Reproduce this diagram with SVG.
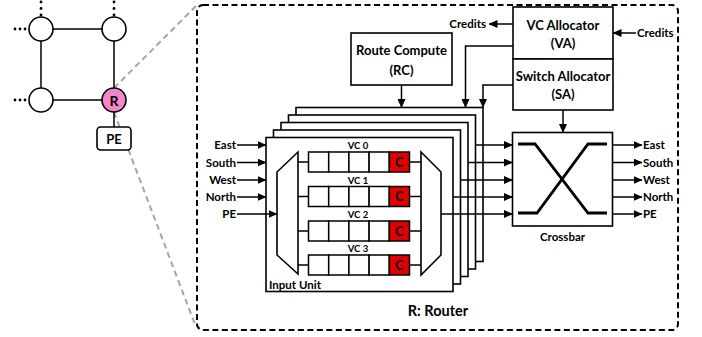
<svg xmlns="http://www.w3.org/2000/svg" width="702" height="337" viewBox="0 0 702 337">
<defs>
<marker id="ah" markerWidth="9" markerHeight="8" refX="8.5" refY="4" orient="auto" markerUnits="userSpaceOnUse">
<path d="M0,0 L9,4 L0,8 z" fill="#000"/>
</marker>
<style>
text{font-family:Lato,"Open Sans","Liberation Sans",sans-serif;font-weight:bold;fill:#000}
.box{fill:#fff;stroke:#000;stroke-width:1.6}
.ln{fill:none;stroke:#000;stroke-width:1.5}
.ar{fill:none;stroke:#000;stroke-width:1.5;marker-end:url(#ah)}
.gray{fill:none;stroke:#a6a6a6;stroke-width:2;stroke-dasharray:6,4}
.dot{fill:#000}
.t13{font-size:13px}
.t11{font-size:11.5px}
.t9{font-size:9.5px}
.tc{font-size:12.5px}
.cell{fill:#fff;stroke:#000;stroke-width:1.5}
.red{fill:#e00000;stroke:#000;stroke-width:1.5}
</style>
</defs>
<rect width="702" height="337" fill="#fff"/>

<!-- zoom lines -->
<g id="zoomlines">
<line class="gray" x1="114" y1="88" x2="197" y2="5"/>
<line class="gray" x1="114" y1="112" x2="196" y2="327"/>
</g>

<!-- mesh -->
<g id="mesh">
<line class="ln" x1="41" y1="29" x2="114" y2="29"/>
<line class="ln" x1="41" y1="100" x2="114" y2="100"/>
<line class="ln" x1="41" y1="29" x2="41" y2="100"/>
<line class="ln" x1="114" y1="29" x2="114" y2="100"/>
<line class="ln" x1="114" y1="100" x2="114" y2="127"/>
<circle class="dot" cx="15" cy="29" r="1.4"/><circle class="dot" cx="20" cy="29" r="1.4"/><circle class="dot" cx="25" cy="29" r="1.4"/>
<circle class="dot" cx="15" cy="100" r="1.4"/><circle class="dot" cx="20" cy="100" r="1.4"/><circle class="dot" cx="25" cy="100" r="1.4"/>
<circle class="dot" cx="41" cy="2" r="1.4"/><circle class="dot" cx="41" cy="8.5" r="1.4"/><circle class="dot" cx="41" cy="15" r="1.4"/>
<circle class="dot" cx="114" cy="2" r="1.4"/><circle class="dot" cx="114" cy="8.5" r="1.4"/><circle class="dot" cx="114" cy="15" r="1.4"/>
</g>
<g id="n00"><circle class="box" cx="41" cy="29" r="12"/></g>
<g id="n01"><circle class="box" cx="114" cy="29" r="12"/></g>
<g id="n10"><circle class="box" cx="41" cy="100" r="12"/></g>
<g id="nR"><circle cx="114" cy="100" r="12" fill="#f386c6" stroke="#000" stroke-width="1.6"/><text x="114" y="105.5" font-size="14" text-anchor="middle">R</text></g>
<g id="nPE"><rect class="box" x="97" y="127" width="34" height="23" rx="3.5"/><text class="t13" x="114" y="143.5" text-anchor="middle">PE</text></g>

<!-- router boundary -->
<g id="router">
<rect x="197" y="5" width="481" height="325" rx="6" fill="none" stroke="#000" stroke-width="2" stroke-dasharray="6,3.5"/>
<text x="438" y="316" font-size="14.5" text-anchor="middle">R: Router</text>
</g>

<!-- input unit stack -->
<g id="inputunit">
<rect class="box" x="296" y="107.5" width="187" height="154"/>
<rect class="box" x="288.5" y="115" width="187" height="154"/>
<rect class="box" x="281" y="122.5" width="187" height="154"/>
<rect class="box" x="273.5" y="130" width="187" height="154"/>
<rect class="box" x="266" y="137.5" width="187" height="154"/>
<text class="t11" x="269" y="288.5">Input Unit</text>
<polygon class="box" points="277,172 298,152 298,274 277,255"/>
<polygon class="box" points="421,152 441,172 441,255 421,275"/>
<g id="vc0">
<text class="t9" x="358" y="149" text-anchor="middle">VC 0</text>
<rect class="cell" x="308.5" y="152" width="20.2" height="20"/><rect class="cell" x="328.7" y="152" width="20.2" height="20"/><rect class="cell" x="348.9" y="152" width="20.2" height="20"/><rect class="cell" x="369.1" y="152" width="20.2" height="20"/><rect class="red" x="389.3" y="152" width="20.2" height="20"/>
<text class="tc" x="399.4" y="166.5" text-anchor="middle">C</text>
</g>
<g id="vc1">
<text class="t9" x="358" y="183.5" text-anchor="middle">VC 1</text>
<rect class="cell" x="308.5" y="186.5" width="20.2" height="20"/><rect class="cell" x="328.7" y="186.5" width="20.2" height="20"/><rect class="cell" x="348.9" y="186.5" width="20.2" height="20"/><rect class="cell" x="369.1" y="186.5" width="20.2" height="20"/><rect class="red" x="389.3" y="186.5" width="20.2" height="20"/>
<text class="tc" x="399.4" y="201" text-anchor="middle">C</text>
</g>
<g id="vc2">
<text class="t9" x="358" y="218" text-anchor="middle">VC 2</text>
<rect class="cell" x="308.5" y="221" width="20.2" height="20"/><rect class="cell" x="328.7" y="221" width="20.2" height="20"/><rect class="cell" x="348.9" y="221" width="20.2" height="20"/><rect class="cell" x="369.1" y="221" width="20.2" height="20"/><rect class="red" x="389.3" y="221" width="20.2" height="20"/>
<text class="tc" x="399.4" y="235.5" text-anchor="middle">C</text>
</g>
<g id="vc3">
<text class="t9" x="358" y="252" text-anchor="middle">VC 3</text>
<rect class="cell" x="308.5" y="255" width="20.2" height="20"/><rect class="cell" x="328.7" y="255" width="20.2" height="20"/><rect class="cell" x="348.9" y="255" width="20.2" height="20"/><rect class="cell" x="369.1" y="255" width="20.2" height="20"/><rect class="red" x="389.3" y="255" width="20.2" height="20"/>
<text class="tc" x="399.4" y="269.5" text-anchor="middle">C</text>
</g>
</g>

<g id="rc"><rect class="box" x="351" y="33" width="101" height="52"/>
<text class="t13" x="401.5" y="55" text-anchor="middle">Route Compute</text>
<text class="t13" x="401.5" y="75" text-anchor="middle">(RC)</text></g>

<g id="va"><rect class="box" x="513" y="7" width="100" height="52"/>
<text class="t13" x="563" y="30" text-anchor="middle">VC Allocator</text>
<text class="t13" x="563" y="48" text-anchor="middle">(VA)</text></g>

<g id="sa"><rect class="box" x="513" y="59" width="100" height="51"/>
<text class="t13" x="563" y="81" text-anchor="middle">Switch Allocator</text>
<text class="t13" x="563" y="99" text-anchor="middle">(SA)</text></g>

<g id="crossbar"><rect class="box" x="512.5" y="132.5" width="100" height="93.5"/>
<path d="M518,144 H535 L588,213 H607 M518,213 H537 L588,144 H607" fill="none" stroke="#000" stroke-width="2.8"/>
<text class="t11" x="562.5" y="240.5" text-anchor="middle">Crossbar</text></g>

<g id="labels">
<text class="t11" x="236" y="149" text-anchor="end">East</text>
<text class="t11" x="236" y="166.5" text-anchor="end">South</text>
<text class="t11" x="236" y="184" text-anchor="end">West</text>
<text class="t11" x="236" y="201" text-anchor="end">North</text>
<text class="t11" x="236" y="218" text-anchor="end">PE</text>
<text class="t11" x="643" y="149">East</text>
<text class="t11" x="643" y="166.5">South</text>
<text class="t11" x="643" y="184">West</text>
<text class="t11" x="643" y="201">North</text>
<text class="t11" x="643" y="218">PE</text>
<text class="t11" x="486" y="28" text-anchor="end">Credits</text>
<text class="t11" x="637" y="37">Credits</text>
</g>

<g id="connectors">
<line class="ar" x1="237" y1="145" x2="266" y2="145"/>
<line class="ar" x1="237" y1="162.5" x2="266" y2="162.5"/>
<line class="ar" x1="237" y1="180" x2="266" y2="180"/>
<line class="ar" x1="237" y1="197" x2="266" y2="197"/>
<line class="ar" x1="237" y1="214" x2="277" y2="214"/>
<line class="ln" x1="298" y1="162" x2="308.5" y2="162"/>
<line class="ln" x1="298" y1="196.5" x2="308.5" y2="196.5"/>
<line class="ln" x1="298" y1="231" x2="308.5" y2="231"/>
<line class="ln" x1="298" y1="265" x2="308.5" y2="265"/>
<line class="ln" x1="409.5" y1="162" x2="421" y2="162"/>
<line class="ln" x1="409.5" y1="196.5" x2="421" y2="196.5"/>
<line class="ln" x1="409.5" y1="231" x2="421" y2="231"/>
<line class="ln" x1="409.5" y1="265" x2="421" y2="265"/>
<line class="ar" x1="475.5" y1="145" x2="512.5" y2="145"/>
<line class="ar" x1="468" y1="162.5" x2="512.5" y2="162.5"/>
<line class="ar" x1="460.5" y1="180" x2="512.5" y2="180"/>
<line class="ar" x1="453" y1="197" x2="512.5" y2="197"/>
<line class="ar" x1="441" y1="214" x2="512.5" y2="214"/>
<line class="ar" x1="612.5" y1="145" x2="642" y2="145"/>
<line class="ar" x1="612.5" y1="162.5" x2="642" y2="162.5"/>
<line class="ar" x1="612.5" y1="180" x2="642" y2="180"/>
<line class="ar" x1="612.5" y1="197" x2="642" y2="197"/>
<line class="ar" x1="612.5" y1="214" x2="642" y2="214"/>
<line class="ar" x1="401.5" y1="85" x2="401.5" y2="107.5"/>
<polyline class="ar" points="513,46 465.5,46 465.5,107.5"/>
<polyline class="ar" points="513,85 483,85 483,107.5"/>
<line class="ar" x1="563" y1="110" x2="563" y2="132.5"/>
<line class="ar" x1="513" y1="24" x2="489" y2="24"/>
<line class="ar" x1="636" y1="33" x2="613" y2="33"/>
</g>
</svg>
